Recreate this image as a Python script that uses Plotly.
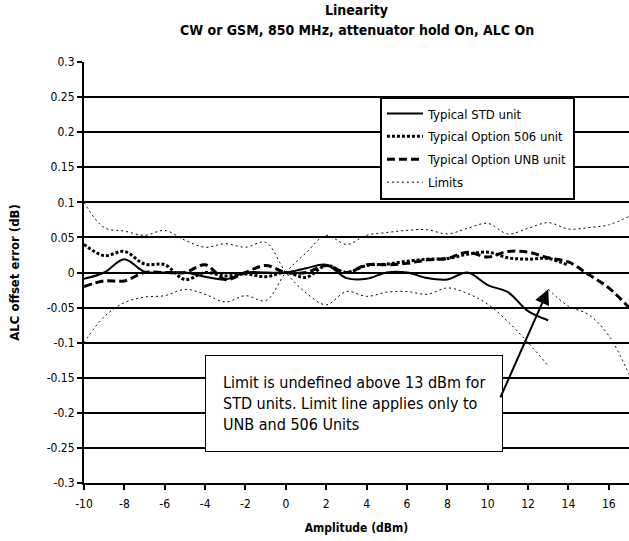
import plotly.graph_objects as go

# ALC offset error (dB) versus amplitude (dBm)
amp_std = list(range(-10, 14))
std_unit = [-0.009, 0.0, 0.019, 0.001, 0.0, 0.0, -0.006, -0.01, 0.0, 0.0, 0.0, 0.006,
            0.011, -0.008, -0.009, 0.0, 0.0, -0.008, -0.01, 0.0, -0.018, -0.028, -0.055, -0.068]

amp_506 = list(range(-10, 15))
opt506_unit = [0.04, 0.024, 0.03, 0.012, 0.011, -0.01, 0.0, -0.005, -0.002, -0.006, 0.0, -0.007,
               0.01, 0.0, 0.01, 0.012, 0.016, 0.019, 0.02, 0.026, 0.029, 0.021, 0.019, 0.02, 0.01]

amp_unb = list(range(-10, 18))
unb_unit = [-0.02, -0.012, -0.012, 0.0, 0.0, 0.0, 0.011, -0.01, 0.0, 0.01, 0.0, 0.0, 0.01, 0.0,
            0.011, 0.011, 0.013, 0.018, 0.02, 0.029, 0.022, 0.03, 0.029, 0.021, 0.015, -0.003, -0.022, -0.05]

# limit lines (they cross at the 0 dBm reference point)
limit_a_x = list(range(-10, 14))
limit_a = [0.1, 0.064, 0.059, 0.053, 0.06, 0.046, 0.036, 0.041, 0.036, 0.043, 0.0, -0.029,
           -0.046, -0.027, -0.034, -0.028, -0.027, -0.031, -0.022, -0.03, -0.045, -0.07, -0.1, -0.133]
limit_b_x = list(range(-10, 18))
limit_b = [-0.1, -0.063, -0.043, -0.035, -0.033, -0.024, -0.031, -0.042, -0.033, -0.04, 0.0, 0.028,
           0.053, 0.04, 0.053, 0.057, 0.06, 0.061, 0.055, 0.063, 0.07, 0.055, 0.063, 0.071, 0.062, 0.064, 0.068, 0.08]
limit_c_x = list(range(13, 18))
limit_c = [-0.024, -0.048, -0.06, -0.09, -0.145]

y_ticks = [0.3, 0.25, 0.2, 0.15, 0.1, 0.05, 0, -0.05, -0.1, -0.15, -0.2, -0.25, -0.3]
y_tick_text = ["0.3", "0.25", "0.2", "0.15", "0.1", "0.05", "0", "-0.05", "-0.1", "-0.15", "-0.2", "-0.25", "-0.3"]
x_ticks = list(range(-10, 17, 2))
x_tick_text = [str(v) for v in x_ticks]

FONT = "DejaVu Sans Condensed, Liberation Sans Narrow, Arial Narrow, sans-serif"

fig = go.Figure()
fig.add_trace(go.Scatter(x=amp_std, y=std_unit, mode="lines", name="Typical STD unit",
                         line=dict(color="black", width=2, shape="spline")))
fig.add_trace(go.Scatter(x=amp_506, y=opt506_unit, mode="lines", name="Typical Option 506 unit",
                         line=dict(color="black", width=3, dash="3px,2px", shape="spline")))
fig.add_trace(go.Scatter(x=amp_unb, y=unb_unit, mode="lines", name="Typical Option UNB unit",
                         line=dict(color="black", width=3, dash="8px,4px", shape="spline")))
lim_line = dict(color="black", width=1, dash="2px,3px", shape="spline")
fig.add_trace(go.Scatter(x=limit_a_x, y=limit_a, mode="lines", name="Limits", legendgroup="lim",
                         line=lim_line))
fig.add_trace(go.Scatter(x=limit_b_x, y=limit_b, mode="lines", name="Limits", legendgroup="lim",
                         showlegend=False, line=lim_line))
fig.add_trace(go.Scatter(x=limit_c_x, y=limit_c, mode="lines", name="Limits", legendgroup="lim",
                         showlegend=False, line=lim_line))

fig.add_annotation(
    x=-4, y=-0.118, xref="x", yref="y", xanchor="left", yanchor="top",
    text="Limit is undefined above 13 dBm for<br>STD units. Limit line applies only to<br>UNB and 506 Units",
    align="left", showarrow=False, font=dict(family=FONT, size=16, color="black"),
    bgcolor="white", bordercolor="black", borderwidth=1, borderpad=17,
)
fig.add_annotation(
    x=limit_c_x[0], y=limit_c[0], xref="x", yref="y", ax=10.6, ay=-0.18, axref="x", ayref="y",
    text="", showarrow=True, arrowhead=2, arrowsize=1.5, arrowwidth=2, arrowcolor="black",
)
# second title line
fig.add_annotation(
    x=0.5, y=(483 - 30) / 421, xref="paper", yref="paper", xanchor="center", yanchor="middle",
    text="<b>CW or GSM, 850 MHz, attenuator hold On, ALC On</b>", showarrow=False,
    font=dict(family=FONT, size=14, color="black"),
)

fig.update_layout(
    width=629, height=541,
    margin=dict(l=84, r=0, t=62, b=58),
    paper_bgcolor="white", plot_bgcolor="white",
    font=dict(family=FONT, size=12, color="black"),
    title=dict(text="<b>Linearity</b>", x=0.5, xref="paper", xanchor="center",
               y=1 - 10 / 541, yref="container", yanchor="middle",
               font=dict(family=FONT, size=14, color="black")),
    legend=dict(x=0.543, y=0.918, xanchor="left", yanchor="top", bgcolor="white",
                bordercolor="black", borderwidth=2, tracegroupgap=3, itemwidth=36,
                font=dict(family=FONT, size=13, color="black")),
    showlegend=True,
)
fig.update_xaxes(range=[-10, 17], tickvals=x_ticks, ticktext=x_tick_text, showgrid=False,
                 zeroline=False, showline=True, linecolor="black", linewidth=2,
                 ticks="outside", ticklen=5, tickwidth=1.5, tickcolor="black", ticklabelstandoff=4,
                 title=dict(text="<b>Amplitude (dBm)</b>", standoff=13, font=dict(size=12)))
fig.update_yaxes(range=[-0.3, 0.3], tickvals=y_ticks, ticktext=y_tick_text, showgrid=True,
                 gridcolor="black", gridwidth=2, zeroline=False, showline=True, linecolor="black",
                 linewidth=2, ticks="outside", ticklen=5, tickwidth=1.5, tickcolor="black",
                 title=dict(text="<b>ALC offset error (dB)</b>", standoff=24, font=dict(size=13)))

fig.write_html("out.html")
